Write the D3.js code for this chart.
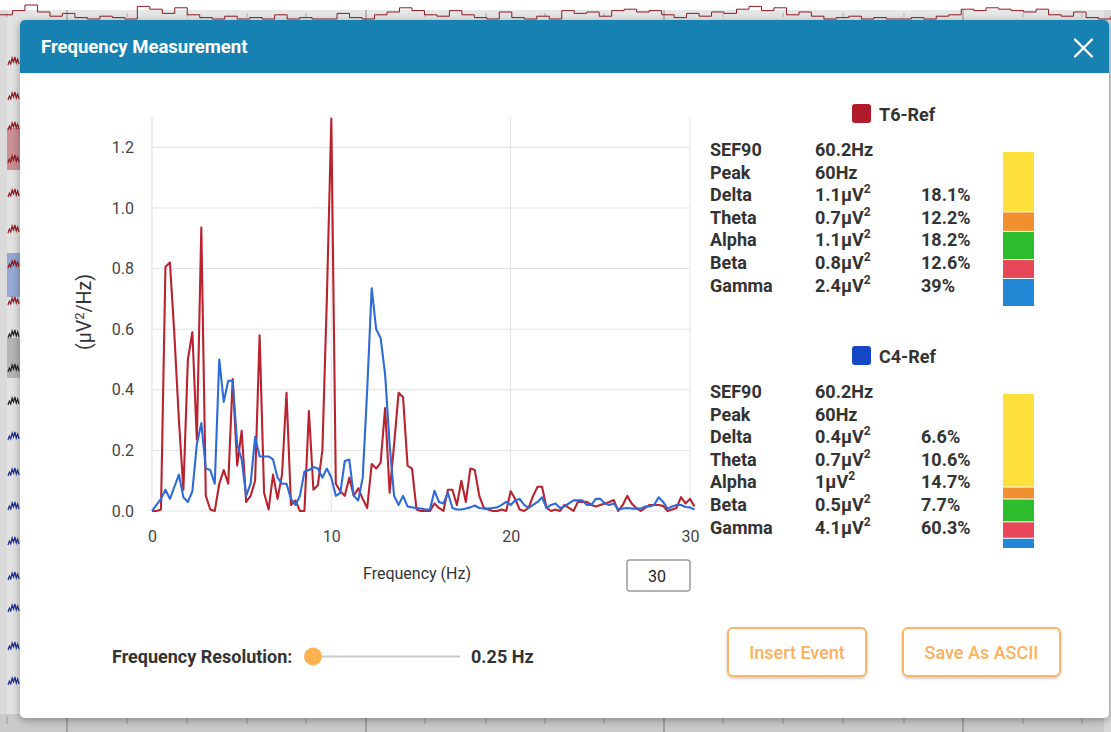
<!DOCTYPE html>
<html><head><meta charset="utf-8">
<script src="https://cdn.jsdelivr.net/npm/d3@7"></script>
<style>
html,body{margin:0;padding:0;background:#fff;}
svg{display:block;font-family:Roboto,"Noto Sans",sans-serif;}
</style></head><body>
<svg id="c" width="1111" height="732"></svg>
<script>
// ---------------- DATA ----------------
const freqStep = 0.25; // Hz per bin
const t6Ref = [
0.000,0.000,0.005,0.806,0.820,0.580,0.300,0.070,0.500,0.590,
0.235,0.935,0.050,0.005,0.000,0.090,0.135,0.090,0.435,0.150,
0.265,0.030,0.050,0.100,0.580,0.060,0.005,0.120,0.040,0.120,
0.390,0.020,0.035,0.000,0.000,0.330,0.070,0.085,0.200,0.700,
1.295,0.090,0.065,0.050,0.110,0.050,0.075,0.040,0.010,0.155,
0.140,0.160,0.340,0.060,0.220,0.390,0.375,0.150,0.140,0.005,
0.000,0.000,0.000,0.025,0.010,0.000,0.070,0.070,0.020,0.100,
0.030,0.140,0.135,0.050,0.010,0.005,0.000,0.000,0.005,0.000,
0.065,0.040,0.005,0.000,0.010,0.050,0.080,0.080,0.010,0.000,
0.005,0.000,0.020,0.010,0.000,0.030,0.030,0.030,0.020,0.015,
0.020,0.025,0.030,0.036,0.000,0.020,0.050,0.025,0.010,0.000,
0.010,0.020,0.020,0.020,0.017,0.000,0.005,0.010,0.046,0.025,
0.040,0.015];
const c4Ref = [
0.000,0.020,0.040,0.070,0.040,0.080,0.120,0.045,0.030,0.065,
0.220,0.290,0.140,0.135,0.090,0.500,0.360,0.430,0.430,0.220,
0.170,0.050,0.090,0.245,0.180,0.180,0.180,0.170,0.110,0.090,
0.090,0.040,0.020,0.050,0.130,0.135,0.145,0.140,0.110,0.140,
0.110,0.050,0.060,0.165,0.170,0.050,0.035,0.110,0.400,0.735,
0.600,0.570,0.450,0.220,0.050,0.020,0.050,0.015,0.012,0.010,
0.008,0.005,0.005,0.067,0.030,0.025,0.060,0.010,0.005,0.005,
0.008,0.012,0.018,0.010,0.008,0.008,0.010,0.012,0.020,0.030,
0.020,0.035,0.040,0.020,0.010,0.020,0.030,0.045,0.010,0.020,
0.025,0.010,0.015,0.025,0.035,0.035,0.035,0.020,0.020,0.040,
0.040,0.025,0.020,0.025,0.005,0.008,0.010,0.008,0.008,0.008,
0.015,0.015,0.020,0.045,0.030,0.008,0.015,0.020,0.020,0.013,
0.012,0.005];
const xTicks = [0, 10, 20, 30];
const yTicks = [0, 0.2, 0.4, 0.6, 0.8, 1.0, 1.2];
const channelNames = ["T6-Ref", "C4-Ref"];
const sef90 = ["60.2Hz", "60.2Hz"];
const peakFreq = ["60Hz", "60Hz"];
const bandNames = ["Delta", "Theta", "Alpha", "Beta", "Gamma"];
const t6Power = ["1.1", "0.7", "1.1", "0.8", "2.4"];
const t6Pct = [18.1, 12.2, 18.2, 12.6, 39];
const c4Power = ["0.4", "0.7", "1", "0.5", "4.1"];
const c4Pct = [6.6, 10.6, 14.7, 7.7, 60.3];
const freqMaxInput = "30";
const resolutionLabel = "0.25 Hz";
// background EEG decoration
const topTrace = [0.3,0.6,1.0,0.5,0.2,0.4,0.1,0.0,0.2,0.1,0.0,0.9,0.7,0.4,0.8,0.3,0.1,0.0,0.2,0.0,
0.1,0.0,0.3,0.0,0.1,0.0,0.0,0.4,0.1,0.0,0.3,0.5,0.8,0.6,0.3,0.2,0.6,0.3,0.1,0.0,
0.5,0.1,0.0,0.2,0.0,0.6,0.4,0.5,0.2,0.6,0.7,0.5,0.6,0.3,0.1,0.4,0.2,0.5,0.4,0.7,
0.9,0.6,0.8,0.3,0.5,0.2,0.0,0.1,0.2,0.0,0.1,0.0,0.0,0.1,0.0,0.2,0.3,0.7,0.6,0.8,
0.7,0.6,0.5,0.7,0.3,0.2,0.5,0.1,0.0,0.2];
const leftRowY = [65,100,130,163,197,233,268,305,338,372,405,440,476,510,545,580,612,650,685];
const leftRowKind = ["r","r","r","r","r","r","r","r","k","k","k","b","b","b","b","b","b","b","b"];
const squiggle = [0,-4,-1,-7,-3,-8,-2,-6,-1];
const bgGridX = [7,67,127,187,247,306,366,425,486,545,604,664,723,783,843,904,963,1023,1082];
const bgMajorX = [67,366,664,963];

// ---------------- DRAW ----------------
const W = 1111, H = 732;
const svg = d3.select("#c");
const defs = svg.append("defs");
const sh = defs.append("filter").attr("id","shadow").attr("x","-5%").attr("y","-5%").attr("width","110%").attr("height","115%");
sh.append("feDropShadow").attr("dx",0).attr("dy",2).attr("stdDeviation",4).attr("flood-color","#000").attr("flood-opacity",0.35);
const bs = defs.append("filter").attr("id","btnShadow").attr("x","-10%").attr("y","-20%").attr("width","120%").attr("height","150%");
bs.append("feDropShadow").attr("dx",0).attr("dy",1.5).attr("stdDeviation",1.5).attr("flood-color","#000").attr("flood-opacity",0.22);

// background
const bg = svg.append("g");
bg.append("rect").attr("width",W).attr("height",H).attr("fill","#fff");
bg.append("rect").attr("x",0).attr("y",10).attr("width",W).attr("height",12).attr("fill","#e6e6e6");
bg.append("rect").attr("x",0).attr("y",10).attr("width",22).attr("height",H-10).attr("fill","#e2e2e2");
bg.append("rect").attr("x",0).attr("y",10).attr("width",7).attr("height",H-10).attr("fill","#dadada");
bg.append("rect").attr("x",0).attr("y",714).attr("width",W).attr("height",18).attr("fill","#cacaca");
bg.append("rect").attr("x",1104).attr("y",10).attr("width",7).attr("height",H-10).attr("fill","#d8d8d8");
[[128,170,"#c99094"],[253,297,"#93a9d4"],[338,378,"#b5b5b5"]].forEach(p=>{
  bg.append("rect").attr("x",7).attr("y",p[0]).attr("width",15).attr("height",p[1]-p[0]).attr("fill",p[2]);
});
bgGridX.forEach(x=>{
  const major = bgMajorX.includes(x);
  bg.append("line").attr("x1",x).attr("x2",x).attr("y1",major?10:13).attr("y2",major?22:17).attr("stroke",major?"#888":"#aaa").attr("stroke-width",1);
  bg.append("line").attr("x1",x).attr("x2",x).attr("y1",major?714:716).attr("y2",major?732:724).attr("stroke",major?"#777":"#999").attr("stroke-width",1);
});
const tx = d3.scaleLinear().domain([0, topTrace.length-1]).range([0, W]);
const ty = d3.scaleLinear().domain([0,1]).range([19,5]);
bg.append("path").attr("d", d3.line().x((d,i)=>tx(i)).y(d=>ty(d)).curve(d3.curveStepAfter)(topTrace))
  .attr("fill","none").attr("stroke","#8e1b22").attr("stroke-width",1);
const kindColor = {r:"#8e1b22", k:"#222", b:"#1c2c8c"};
const sx = d3.scaleLinear().domain([0,squiggle.length-1]).range([8,19]);
leftRowY.forEach((y,i)=>{
  bg.append("path").attr("d", d3.line().x((d,j)=>sx(j)).y(d=>y+d)(squiggle))
    .attr("fill","none").attr("stroke",kindColor[leftRowKind[i]]).attr("stroke-width",1.2);
});

// modal
const modal = svg.append("g");
modal.append("rect").attr("x",20).attr("y",20).attr("width",1089).attr("height",698).attr("rx",5).attr("fill","#fff").attr("filter","url(#shadow)");
modal.append("rect").attr("x",20).attr("y",20).attr("width",1089).attr("height",53).attr("rx",5).attr("fill","#1782b1");
modal.append("rect").attr("x",20).attr("y",60).attr("width",1089).attr("height",13).attr("fill","#1782b1");
modal.append("text").attr("x",41).attr("y",53).attr("fill","#fff").attr("font-size",18.5).attr("font-weight","bold").text("Frequency Measurement");
modal.append("path").attr("d","M1075,39.5L1092,56.5M1092,39.5L1075,56.5").attr("stroke","#fff").attr("stroke-width",2.4).attr("stroke-linecap","round");

// chart
const x = d3.scaleLinear().domain([0,30]).range([152,690]);
const y = d3.scaleLinear().domain([0,1.3]).range([511,117]);
const chart = svg.append("g");
chart.append("g").selectAll("line").data(yTicks).join("line")
  .attr("x1",x(0)).attr("x2",x(30)).attr("y1",d=>y(d)).attr("y2",d=>y(d))
  .attr("stroke","#e2e2e2").attr("stroke-width",1);
chart.append("g").selectAll("line").data(xTicks).join("line")
  .attr("x1",d=>x(d)).attr("x2",d=>x(d)).attr("y1",y(1.3)).attr("y2",y(0))
  .attr("stroke","#e2e2e2").attr("stroke-width",1);

const yAxis = chart.append("g").attr("transform",`translate(${x(0)},0)`)
  .call(d3.axisLeft(y).tickValues(yTicks).tickFormat(d3.format(".1f")).tickSize(0).tickPadding(18));
yAxis.select(".domain").remove();
yAxis.selectAll("text").attr("font-size",16).attr("fill","#444").attr("font-family","Roboto, sans-serif");
const xAxis = chart.append("g").attr("transform",`translate(0,${y(0)})`)
  .call(d3.axisBottom(x).tickValues(xTicks).tickFormat(d3.format("d")).tickSize(0).tickPadding(20));
xAxis.select(".domain").remove();
xAxis.selectAll("text").attr("font-size",16).attr("fill","#444").attr("font-family","Roboto, sans-serif");

const yt = chart.append("text").attr("transform","translate(91,312) rotate(-90)").attr("text-anchor","middle")
  .attr("font-size",19.5).attr("fill","#333");
yt.append("tspan").text("(μV");
yt.append("tspan").attr("font-size",13).attr("dy",-7).text("2");
yt.append("tspan").attr("dy",7).text("/Hz)");
chart.append("text").attr("x",417).attr("y",579).attr("text-anchor","middle").attr("font-size",16).attr("fill","#333").text("Frequency (Hz)");

const line = d3.line().x((d,i)=>x(i*freqStep)).y(d=>y(d));
chart.append("path").attr("d",line(t6Ref)).attr("fill","none").attr("stroke","#b8232f").attr("stroke-width",2.1).attr("stroke-linejoin","round");
chart.append("path").attr("d",line(c4Ref)).attr("fill","none").attr("stroke","#2d6bd8").attr("stroke-width",2.1).attr("stroke-linejoin","round");

// max freq input
chart.append("rect").attr("x",627).attr("y",560).attr("width",63).attr("height",31).attr("rx",2).attr("fill","#fff").attr("stroke","#666").attr("stroke-width",1);
chart.append("text").attr("x",657).attr("y",582).attr("text-anchor","middle").attr("font-size",16).attr("fill","#222").text(freqMaxInput);

// stats panel
const bandColors = ["#2288d6","#e8475a","#2dbd2d","#f0902e","#fde03b"];
const legendColors = ["#b01c2c","#1648c6"];
function block(k, y0, power, pct){
  const g = svg.append("g").attr("transform",`translate(0,${y0})`);
  g.append("rect").attr("x",852).attr("y",-17).attr("width",19).attr("height",19).attr("rx",3).attr("fill",legendColors[k]);
  g.append("text").attr("x",879).attr("y",0).attr("font-size",18).attr("font-weight","bold").attr("fill","#333").text(channelNames[k]);
  const step = 22.6, base = 35;
  const txt = (xx, yy, s) => g.append("text").attr("x",xx).attr("y",yy).attr("font-size",18).attr("font-weight","bold").attr("fill","#333").text(s);
  txt(710, base, "SEF90"); txt(815, base, sef90[k]);
  txt(710, base+step, "Peak"); txt(815, base+step, peakFreq[k]);
  bandNames.forEach((b,i)=>{
    const yy = base + step*(i+2);
    txt(710, yy, b);
    const t = txt(815, yy, power[i]+"μV");
    t.append("tspan").attr("font-size",12).attr("dy",-8).text("2");
    txt(921, yy, pct[i]+"%");
  });
  // stacked bar (delta at bottom)
  const total = d3.sum(pct);
  const bh = d3.scaleLinear().domain([0,total]).range([0,155]);
  const top = base - 4;
  let acc = 0;
  pct.forEach((p,i)=>{
    const yb = top + 155 - bh(acc);
    const yt2 = top + 155 - bh(acc+p);
    g.append("rect").attr("x",1003).attr("width",31).attr("y",yt2).attr("height",Math.max(0,yb-yt2-1)).attr("fill",bandColors[i]);
    acc += p;
  });
}
block(0, 121, t6Power, t6Pct);
block(1, 363, c4Power, c4Pct);

// bottom controls
const ctl = svg.append("g");
ctl.append("text").attr("x",112).attr("y",663).attr("font-size",18).attr("font-weight","bold").attr("fill","#333").text("Frequency Resolution:");
ctl.append("line").attr("x1",320).attr("x2",460).attr("y1",656.5).attr("y2",656.5).attr("stroke","#c8c8c8").attr("stroke-width",2);
ctl.append("circle").attr("cx",313).attr("cy",656.5).attr("r",9).attr("fill","#fdb24f");
ctl.append("text").attr("x",471).attr("y",663).attr("font-size",18).attr("font-weight","bold").attr("fill","#333").text(resolutionLabel);
[["Insert Event",728,138],["Save As ASCII",903,157]].forEach(b=>{
  ctl.append("rect").attr("x",b[1]).attr("y",628).attr("width",b[2]).attr("height",48).attr("rx",5)
    .attr("fill","#fff").attr("stroke","#fdb563").attr("stroke-width",2).attr("filter","url(#btnShadow)");
  ctl.append("text").attr("x",b[1]+b[2]/2).attr("y",659).attr("text-anchor","middle").attr("font-size",18).attr("font-weight",500).attr("fill","#fdb05c").text(b[0]);
});
</script>
</body></html>
